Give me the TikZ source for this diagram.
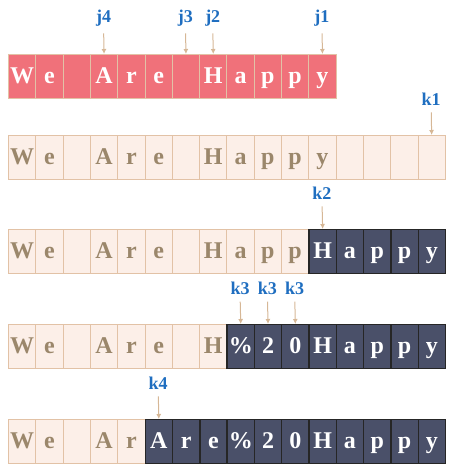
\documentclass[tikz,border=0pt]{standalone}
\usepackage{fontspec}
\setmainfont{Liberation Serif}
\usetikzlibrary{arrows.meta}
\definecolor{cell-red}{HTML}{F0717A}
\definecolor{cell-pale}{HTML}{FCEFE8}
\definecolor{cell-dark}{HTML}{4A5069}
\definecolor{rim}{HTML}{E2C2A6}
\definecolor{ink-tan}{HTML}{9B876B}
\definecolor{ptr-blue}{HTML}{1F6EC0}
\definecolor{ptr-tan}{HTML}{D6B796}

\tikzset{
  cell/.style={draw, anchor=north west, minimum width=27.3pt, minimum height=44pt,
    inner sep=0pt, text height=16pt, text depth=2pt,
    font=\bfseries\fontsize{24}{24}\selectfont},
  rd/.style={cell, fill=cell-red, draw=rim, line width=1pt, text=white},
  lt/.style={cell, fill=cell-pale, draw=rim, line width=1pt, text=ink-tan},
  dk/.style={cell, fill=cell-dark, draw=black!85, line width=1.4pt, text=white},
  idx/.style={text=ptr-blue, inner sep=0pt, font=\bfseries\fontsize{18}{18}\selectfont},
  ptr/.style={draw=ptr-tan, line width=1pt, shorten <=7pt, -{Latex[length=5pt,width=5pt]}}
}

\begin{document}
\begin{tikzpicture}[x=1pt, y=-1pt]
  \useasboundingbox (0,0) rectangle (450,467);

  % row 1: original string
  \foreach \s/\c [count=\i from 0] in {rd/W,rd/e,rd/{},rd/A,rd/r,rd/e,rd/{},rd/H,rd/a,rd/p,rd/p,rd/y}
    \node[\s] (r1c\i) at (8+27.3*\i,54) {\c};
  \node[idx] (j1) at (8+27.3*11.5,18) {j1};
  \node[idx] (j2) at (8+27.3*7.5,18) {j2};
  \node[idx] (j3) at (8+27.3*6.5,18) {j3};
  \node[idx] (j4) at (8+27.3*3.5,18) {j4};
  \draw[ptr] (j1.south) -- (r1c11.north);
  \draw[ptr] (j2.south) -- (r1c7.north);
  \draw[ptr] (j3.south) -- (r1c6.north);
  \draw[ptr] (j4.south) -- (r1c3.north);

  % row 2: grown buffer
  \foreach \s/\c [count=\i from 0] in {lt/W,lt/e,lt/{},lt/A,lt/r,lt/e,lt/{},lt/H,lt/a,lt/p,lt/p,lt/y,lt/{},lt/{},lt/{},lt/{}}
    \node[\s] (r2c\i) at (8+27.3*\i,135) {\c};
  \node[idx] (k1) at (8+27.3*15.5,99) {k1};
  \draw[ptr] (k1.south) -- (r2c15.north);

  % row 3
  \foreach \s/\c [count=\i from 0] in {lt/W,lt/e,lt/{},lt/A,lt/r,lt/e,lt/{},lt/H,lt/a,lt/p,lt/p,dk/H,dk/a,dk/p,dk/p,dk/y}
    \node[\s] (r3c\i) at (8+27.3*\i,229) {\c};
  \node[idx] (k2) at (8+27.3*11.5,193) {k2};
  \draw[ptr] (k2.south) -- (r3c11.north);

  % row 4
  \foreach \s/\c [count=\i from 0] in {lt/W,lt/e,lt/{},lt/A,lt/r,lt/e,lt/{},lt/H,dk/\%,dk/2,dk/0,dk/H,dk/a,dk/p,dk/p,dk/y}
    \node[\s] (r4c\i) at (8+27.3*\i,324) {\c};
  \node[idx] (k3a) at (8+27.3*8.5,288) {k3};
  \node[idx] (k3b) at (8+27.3*9.5,288) {k3};
  \node[idx] (k3c) at (8+27.3*10.5,288) {k3};
  \draw[ptr] (k3a.south) -- (r4c8.north);
  \draw[ptr] (k3b.south) -- (r4c9.north);
  \draw[ptr] (k3c.south) -- (r4c10.north);

  % row 5
  \foreach \s/\c [count=\i from 0] in {lt/W,lt/e,lt/{},lt/A,lt/r,dk/A,dk/r,dk/e,dk/\%,dk/2,dk/0,dk/H,dk/a,dk/p,dk/p,dk/y}
    \node[\s] (r5c\i) at (8+27.3*\i,419) {\c};
  \node[idx] (k4) at (8+27.3*5.5,383) {k4};
  \draw[ptr] (k4.south) -- (r5c5.north);
\end{tikzpicture}
\end{document}
